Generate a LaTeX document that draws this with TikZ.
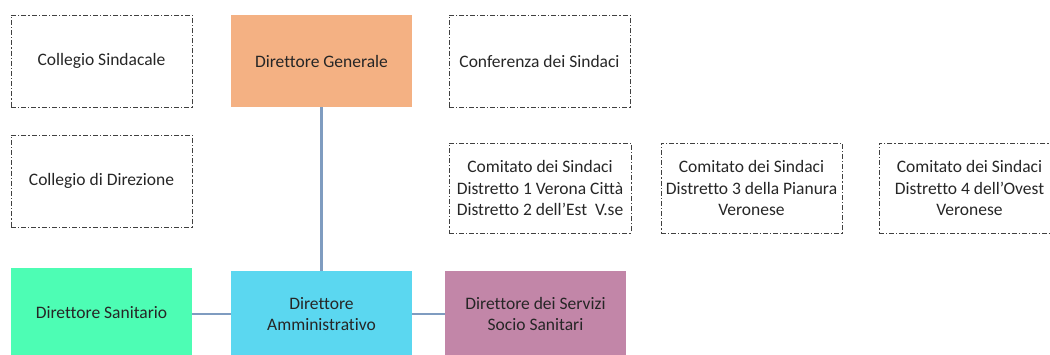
\documentclass[tikz,border=0pt]{standalone}
\usepackage{fontspec}
\setmainfont{Carlito}[Ligatures=NoCommon]
\definecolor{dgen}{HTML}{F4B183}
\definecolor{dsan}{HTML}{4DFDB4}
\definecolor{damm}{HTML}{5BD7F0}
\definecolor{dser}{HTML}{C286A8}
\definecolor{conn}{HTML}{7F9CC0}
\definecolor{txt}{HTML}{262626}
\begin{document}
\begin{tikzpicture}[x=1pt,y=-1pt,
  every node/.style={font=\fontsize{17.5}{21.5}\selectfont, text=txt, align=center, inner sep=0pt},
  dashbox/.style={draw=black!75, line width=1pt, dash pattern=on 5pt off 2pt on 1.2pt off 2pt, minimum width=181pt, minimum height=92pt},
  solidbox/.style={minimum width=181pt, minimum height=86pt},
  link/.style={draw=conn, line width=2.2pt}]
\useasboundingbox (0,0) rectangle (1050,354);
\clip (0,0) rectangle (1050,354);
\node[dashbox] (cs) at (101.5,61) {Collegio Sindacale};
\node[solidbox, fill=dgen, minimum height=92pt] (dg) at (321.5,61) {Direttore Generale};
\node[dashbox] (cf) at (539.5,61) {Conferenza dei Sindaci};
\node[dashbox] (cd) at (101.5,181) {Collegio di Direzione};
\node[dashbox, minimum height=90pt, minimum width=182pt] (c1) at (540,188) {Comitato dei Sindaci\\Distretto 1 Verona Città\\Distretto 2 dell’Est\ \ V.se};
\node[dashbox, minimum height=90pt] (c2) at (751.5,188) {Comitato dei Sindaci\\Distretto 3 della Pianura\\Veronese};
\node[dashbox, minimum height=90pt] (c3) at (969.5,188) {Comitato dei Sindaci\\Distretto 4 dell’Ovest\\Veronese};
\node[solidbox, fill=dsan, minimum height=90pt] (ds) at (101.5,313) {Direttore Sanitario};
\node[solidbox, fill=damm] (da) at (321.5,314) {Direttore\\Amministrativo};
\node[solidbox, fill=dser] (dv) at (535.5,314) {Direttore dei Servizi\\Socio Sanitari};
\draw[link] (dg.south) -- (da.north);
\draw[link] (ds.east |- da.center) -- (da.west);
\draw[link] (da.east) -- (dv.west);
\end{tikzpicture}
\end{document}
